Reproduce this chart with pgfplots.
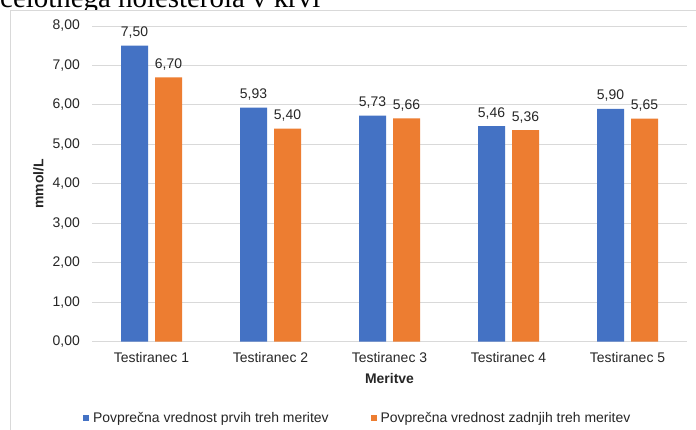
\documentclass[border=0pt]{standalone}
\usepackage{pgfplots}
\pgfplotsset{compat=1.18}
\usepackage{fontspec}
\setmainfont{Liberation Sans}
\newfontfamily\titleserif{Liberation Serif}
\definecolor{cblue}{HTML}{4472C4}
\definecolor{corange}{HTML}{ED7D31}
\definecolor{gridgray}{HTML}{D9D9D9}
\definecolor{txt}{HTML}{262626}
\begin{document}
\begin{tikzpicture}
\useasboundingbox (0bp,0bp) rectangle (696bp,430bp);
\node[anchor=base west, inner sep=0pt, font=\titleserif\fontsize{29}{30}\selectfont] at (0bp,422bp) {celotnega holesterola v krvi};
\draw[gridgray, fill=white, line width=1bp] (10bp,419bp) rectangle (720bp,-20bp);
\begin{axis}[
  at={(92bp,88.5bp)}, anchor=south west,
  scale only axis, width=595bp, height=315.5bp,
  ymin=0, ymax=8, ytick={0,1,...,8},
  xmin=-0.5, xmax=4.5, xtick={0,1,2,3,4},
  xticklabels={Testiranec 1,Testiranec 2,Testiranec 3,Testiranec 4,Testiranec 5},
  ybar=7bp, bar width=27bp,
  axis line style={draw=none},
  major tick length=0pt,
  ymajorgrids,
  major grid style={gridgray, line width=0.9bp},
  clip=false,
  /pgf/number format/assume math mode=true,
  yticklabel style={/pgf/number format/.cd, fixed, fixed zerofill, precision=2, use comma, /tikz/.cd,
    anchor=east, inner sep=0pt, xshift=-12bp, font=\fontsize{14}{16}\selectfont, text=txt},
  xticklabel style={anchor=north, inner sep=0pt, yshift=-10.5bp, font=\fontsize{14}{16}\selectfont, text=txt},
  nodes near coords,
  every node near coord/.append style={/pgf/number format/.cd, fixed, fixed zerofill, precision=2, use comma, /tikz/.cd,
    anchor=south, inner sep=0pt, yshift=7bp, font=\fontsize{14}{16}\selectfont, text=txt},
  xlabel={Meritve},
  ylabel={mmol/L},
  xlabel style={at={(axis description cs:0.5,0)}, anchor=north, inner sep=0pt, yshift=-31.5bp, font=\bfseries\fontsize{14}{16}\selectfont, text=txt},
  ylabel style={at={(axis description cs:-0.0899,0.5)}, anchor=center, inner sep=0pt, font=\bfseries\fontsize{14}{16}\selectfont, text=txt},
  legend image code/.code={\fill[#1] (0bp,-3bp) rectangle (6bp,3bp);},
  legend style={draw=none, fill=none, inner sep=0pt, outer sep=0pt,
    at={(axis description cs:-0.0151,-0.243)}, anchor=west,
    legend columns=2, font=\fontsize{14}{16}\selectfont, text=txt,
    /tikz/every odd column/.append style={column sep=4bp},
    /tikz/every even column/.append style={column sep=42bp},
    nodes={inner sep=0pt}},
]
\addplot[fill=cblue, draw=none] coordinates {(0,7.50) (1,5.93) (2,5.73) (3,5.46) (4,5.90)};
\addlegendentry{Povprečna vrednost prvih treh meritev}
\addplot[fill=corange, draw=none] coordinates {(0,6.70) (1,5.40) (2,5.66) (3,5.36) (4,5.65)};
\addlegendentry{Povprečna vrednost zadnjih treh meritev}
\end{axis}
\end{tikzpicture}
\end{document}
